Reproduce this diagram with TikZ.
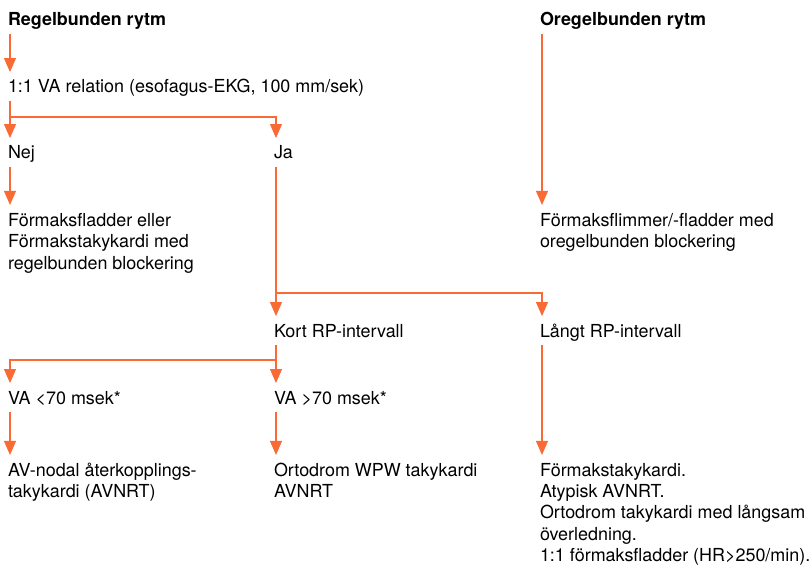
\documentclass[tikz,border=0pt]{standalone}
\usepackage{fontspec}
\setmainfont{TeX Gyre Heros}
\usepackage{tikz}
\usetikzlibrary{arrows.meta,positioning}
\definecolor{ekgorange}{RGB}{250,106,52}

\begin{document}
\fontsize{15.3}{18.3}\selectfont
\begin{tikzpicture}[x=0.03cm,y=-0.03cm]
  \tikzstyle{every node}=[inner sep=0pt,outer sep=0pt]
  \tikzstyle{txt}=[anchor=base west,text height=11pt,text depth=4pt]
  \tikzstyle{blk}=[anchor=north west,align=left]
  \tikzstyle{arr}=[draw=ekgorange,line width=1.6pt,-{Triangle[width=10pt,length=12pt]},shorten <=3pt,shorten >=6.8pt]
  \useasboundingbox (0,0) rectangle (809,568);

  \node[txt,font=\bfseries] (regel)  at (8,26)   {Regelbunden rytm};
  \node[txt,font=\bfseries] (oregel) at (540,26) {Oregelbunden rytm};
  \node[txt] (relation) at (8,93)    {1:1 VA relation (esofagus-EKG, 100 mm/sek)};
  \node[txt] (nej)      at (8,159)   {Nej};
  \node[txt] (ja)       at (274,159) {Ja};
  \node[blk] (fladder)  at (8,213)   {Förmaksfladder eller\\Förmakstakykardi med\\regelbunden blockering};
  \node[blk] (flimmer)  at (540,213) {Förmaksflimmer/-fladder med\\oregelbunden blockering};
  \node[txt] (kort)     at (274,337) {Kort RP-intervall};
  \node[txt] (langt)    at (540,337) {Långt RP-intervall};
  \node[txt] (vamin)    at (8,404)   {VA <70 msek*};
  \node[txt] (vamax)    at (274,404) {VA >70 msek*};
  \node[blk] (avnrt)    at (8,463)   {AV-nodal återkopplings-\\takykardi (AVNRT)};
  \node[blk] (wpw)      at (274,463) {Ortodrom WPW takykardi\\AVNRT};
  \node[blk] (atyp)     at (540,463) {Förmakstakykardi.\\Atypisk AVNRT.\\Ortodrom takykardi med långsam\\överledning.\\1:1 förmaksfladder (HR>250/min).};

  \coordinate (s1) at (10,117);
  \coordinate (s2) at (276,293);
  \coordinate (s3) at (276,360);

  \draw[arr] ([xshift=1.7pt]regel.south west) -- ([xshift=1.7pt]relation.north west);
  \draw[arr] ([xshift=1.7pt]relation.south west) -- ([xshift=1.7pt]nej.north west);
  \draw[arr,shorten <=0pt] (s1) -| ([xshift=1.7pt]ja.north west);
  \draw[arr] ([xshift=1.7pt]nej.south west) -- ([xshift=1.7pt]fladder.north west);
  \draw[arr] ([xshift=1.7pt]oregel.south west) -- ([xshift=1.7pt]flimmer.north west);
  \draw[arr] ([xshift=1.7pt]ja.south west) -- ([xshift=1.7pt]kort.north west);
  \draw[arr,shorten <=0pt] (s2) -| ([xshift=1.7pt]langt.north west);
  \draw[arr] ([xshift=1.7pt]kort.south west) -- ([xshift=1.7pt]vamax.north west);
  \draw[arr,shorten <=0pt] (s3) -| ([xshift=1.7pt]vamin.north west);
  \draw[arr] ([xshift=1.7pt]vamin.south west) -- ([xshift=1.7pt]avnrt.north west);
  \draw[arr] ([xshift=1.7pt]vamax.south west) -- ([xshift=1.7pt]wpw.north west);
  \draw[arr] ([xshift=1.7pt]langt.south west) -- ([xshift=1.7pt]atyp.north west);
\end{tikzpicture}
\end{document}
